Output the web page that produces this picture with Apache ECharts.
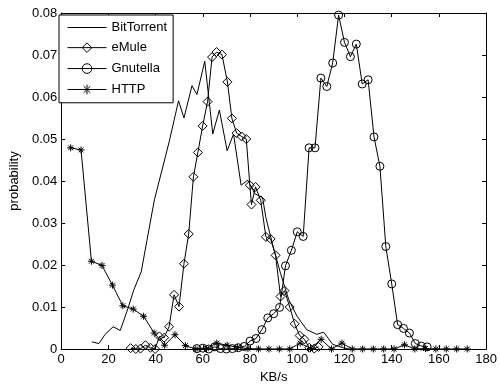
<!DOCTYPE html>
<html>
<head>
<meta charset="utf-8">
<script src="https://cdn.jsdelivr.net/npm/echarts@6/dist/echarts.min.js"></script>
<style>
html,body{margin:0;padding:0;background:#fff;}
#c{width:500px;height:389px;}
</style>
</head>
<body>
<div id="c"></div>
<script>
var xTicks = [0, 20, 40, 60, 80, 100, 120, 140, 160, 180];
var yTicks = [0, 0.01, 0.02, 0.03, 0.04, 0.05, 0.06, 0.07, 0.08];

var btX = [13, 16, 18.6, 22, 25, 28.3, 30.7, 33.9, 36.3, 39.5, 42.6, 45.8, 49.7, 52, 55.4, 57.5, 60.8, 64.2, 67, 70.3, 73, 76.2, 79, 82, 85.3, 86.7, 89.5, 92.9, 96.4, 99.9, 104, 108.2, 111.2, 115, 119.3, 122];
var btY = [0.0017, 0.0013, 0.0035, 0.0053, 0.0044, 0.0097, 0.014, 0.0184, 0.0258, 0.0356, 0.0424, 0.0495, 0.0591, 0.055, 0.0627, 0.0606, 0.0685, 0.0512, 0.0569, 0.0472, 0.0512, 0.039, 0.0402, 0.037, 0.036, 0.0313, 0.025, 0.018, 0.0117, 0.0078, 0.0046, 0.0035, 0.004, 0.0011, 0.0003, 0];

var emX = [29.4, 31.6, 33.6, 35.7, 37.8, 39.8, 41.6, 43.6, 45.7, 47.8, 49.9, 52.0, 54.0, 56.0, 57.9, 59.9, 62.0, 63.9, 65.8, 68.1, 70.4, 72.3, 74.3, 76.4, 78.4, 79.9, 80.6, 82.3, 84.5, 86.7, 88.7, 90.8, 92.9, 94.6, 96.8, 98.9, 101.0, 103.0, 105.1, 107.2, 109.0];
var emY = [0.0002, 0, 0.0001, 0.0009, 0.0003, 0, 0.003, 0.0027, 0.0053, 0.0129, 0.0101, 0.0203, 0.0274, 0.041, 0.0468, 0.0531, 0.0589, 0.0695, 0.0707, 0.0701, 0.0636, 0.0549, 0.0514, 0.0506, 0.05, 0.039, 0.0344, 0.0386, 0.0354, 0.0267, 0.0262, 0.0223, 0.0125, 0.0139, 0.01, 0.006, 0.0032, 0.0023, 0.0003, 0.0001, 0.0005];

var gnX = [57.5, 60, 62.5, 65, 67.5, 70, 72.5, 75, 77.5, 80, 82.5, 85, 87.5, 90, 92.5, 95, 97.5, 100, 102.5, 105, 107.5, 110, 112.5, 115, 117.5, 120, 122.5, 125, 127.5, 130, 132.5, 135, 137.5, 140, 142.5, 145, 147.5, 150, 152.5, 155];
var gnY = [0.0001, 0.0002, 0, 0.0005, 0.0001, 0, 0.0001, 0.0003, 0.0006, 0.0019, 0.0025, 0.0046, 0.0074, 0.0084, 0.0099, 0.0198, 0.0235, 0.0279, 0.0268, 0.0479, 0.0479, 0.0645, 0.0625, 0.0681, 0.0795, 0.073, 0.0696, 0.0726, 0.0631, 0.0641, 0.0505, 0.0435, 0.0244, 0.0155, 0.0058, 0.0049, 0.0038, 0.0013, 0.0007, 0.0005];

var htX = [4.0, 8.4, 12.8, 17.3, 21.7, 26.1, 30.5, 34.9, 39.4, 43.8, 48.2, 52.6, 57.0, 61.5, 65.9, 70.3, 74.7, 79.1, 83.6, 88.0, 92.4, 96.8, 101.2, 105.6, 110.1, 114.5, 118.9, 123.3, 127.7, 132.2, 136.6, 141.0, 145.4, 149.8, 154.3, 158.7, 163.1, 167.5, 172.0];
var htY = [0.0479, 0.0474, 0.0209, 0.0199, 0.0152, 0.0103, 0.0095, 0.0078, 0.0038, 0.0009, 0.0034, 0.0008, 0, 0.0001, 0.0014, 0.0009, 0.0004, 0.0001, 0, 0, 0, 0, 0.0014, 0.0001, 0.0023, 0, 0.0014, 0, 0, 0, 0, 0, 0.001, 0, 0.0001, 0, 0, 0, 0];

function zip(xs, ys) { return xs.map(function (x, i) { return [x, ys[i]]; }); }

var starPath = 'path://M10,0 L10,20 M0,10 L20,10 M3,3 L17,17 M3,17 L17,3';
var FONT = 'Liberation Sans, Arial, Helvetica, sans-serif';

function mkSeries(name, xs, ys, symbol, size) {
  return {
    name: name, type: 'line', data: zip(xs, ys),
    symbol: symbol, symbolSize: size, showSymbol: symbol !== 'none', showAllSymbol: true,
    lineStyle: { color: '#000', width: 1 },
    itemStyle: { color: symbol === 'none' ? '#000' : 'none', borderColor: '#000', borderWidth: 1 },
    emphasis: { disabled: true }, animation: false, z: 3
  };
}

var chart = echarts.init(document.getElementById('c'), null, { renderer: 'canvas' });
var tickCommon = { show: true, inside: true, length: 4, lineStyle: { color: '#000', width: 1 } };
chart.setOption({
  backgroundColor: '#fff',
  animation: false,
  textStyle: { fontFamily: FONT },
  grid: { left: 57, right: 11, top: 13, bottom: 36, show: false },
  legend: {
    left: 59, top: 15, orient: 'vertical',
    data: [
      { name: 'BitTorrent', icon: 'path://M0,0 L39,0 L39,1 L0,1 Z', itemStyle: { color: '#000', borderWidth: 0 } },
      'eMule', 'Gnutella', 'HTTP'
    ],
    itemWidth: 39, itemHeight: 12, itemGap: 6.33,
    padding: [6, 6, 6, 8],
    borderColor: '#000', borderWidth: 1, backgroundColor: '#fff',
    lineStyle: { width: 1, color: '#000' },
    itemStyle: { borderWidth: 1, borderColor: '#000' },
    textStyle: { fontSize: 13, color: '#000', fontFamily: FONT },
    selectedMode: false, z: 10
  },
  xAxis: [{
    type: 'value', min: 0, max: 180, interval: 20, position: 'bottom',
    name: 'KB/s', nameLocation: 'middle', nameGap: 22,
    nameTextStyle: { fontSize: 13, color: '#000', fontFamily: FONT },
    axisLine: { show: true, onZero: false, lineStyle: { color: '#000', width: 1 } },
    axisTick: tickCommon,
    axisLabel: { fontSize: 13, color: '#000', margin: 4, fontFamily: FONT },
    splitLine: { show: false }
  }, {
    type: 'value', min: 0, max: 180, interval: 20, position: 'top',
    axisLine: { show: true, onZero: false, lineStyle: { color: '#000', width: 1 } },
    axisTick: tickCommon, axisLabel: { show: false }, splitLine: { show: false }
  }],
  yAxis: [{
    type: 'value', min: 0, max: 0.08, interval: 0.01, position: 'left',
    name: 'probability', nameLocation: 'middle', nameGap: 35,
    nameTextStyle: { fontSize: 13, color: '#000', fontFamily: FONT },
    axisLine: { show: true, onZero: false, lineStyle: { color: '#000', width: 1 } },
    axisTick: tickCommon,
    axisLabel: { fontSize: 13, color: '#000', margin: 4, fontFamily: FONT },
    splitLine: { show: false }
  }, {
    type: 'value', min: 0, max: 0.08, interval: 0.01, position: 'right',
    axisLine: { show: true, onZero: false, lineStyle: { color: '#000', width: 1 } },
    axisTick: tickCommon, axisLabel: { show: false }, splitLine: { show: false }
  }],
  series: [
    mkSeries('BitTorrent', btX, btY, 'none', 0),
    mkSeries('eMule', emX, emY, 'diamond', 9),
    mkSeries('Gnutella', gnX, gnY, 'circle', 8),
    mkSeries('HTTP', htX, htY, starPath, 7)
  ]
});
</script>
</body>
</html>
